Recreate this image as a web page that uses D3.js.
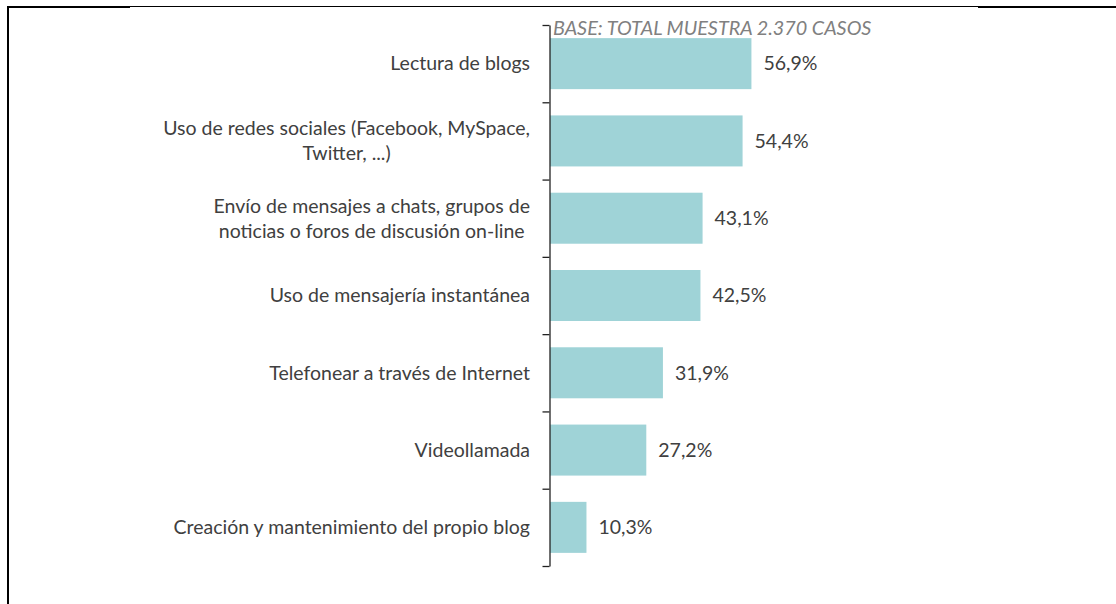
<!DOCTYPE html>
<html>
<head>
<meta charset="utf-8">
<script src="https://cdn.jsdelivr.net/npm/d3@7"></script>
<style>
  html, body { margin: 0; padding: 0; background: #fff; }
  svg { display: block; }
  .lbl { font-family: Lato, "Open Sans", sans-serif; font-size: 19.5px; fill: #404040; }
  .base { font-family: Lato, "Open Sans", sans-serif; font-size: 19.8px; font-style: italic; fill: #808080; }
</style>
</head>
<body>
<div id="chart"></div>
<script>
// categories (each entry = lines of the wrapped label)
var categories = [
  ["Lectura de blogs"],
  ["Uso de redes sociales (Facebook, MySpace,", "Twitter, ...)"],
  ["Envío de mensajes a chats, grupos de", "noticias o foros de discusión on-line"],
  ["Uso de mensajería instantánea"],
  ["Telefonear a través de Internet"],
  ["Videollamada"],
  ["Creación y mantenimiento del propio blog"]
];
var values = [56.9, 54.4, 43.1, 42.5, 31.9, 27.2, 10.3];
var valueLabels = ["56,9%", "54,4%", "43,1%", "42,5%", "31,9%", "27,2%", "10,3%"];
var baseNote = "BASE: TOTAL MUESTRA 2.370 CASOS";

var W = 1116, H = 604;
var axisX = 550, plotTop = 25, plotBottom = 566;

var svg = d3.select("#chart").append("svg")
            .attr("width", W)
            .attr("height", H);

// frame lines of the original image
svg.append("line").attr("x1", 8).attr("x2", W).attr("y1", 6.5).attr("y2", 6.5)
   .attr("stroke", "#000").attr("stroke-width", 1);
svg.append("line").attr("x1", 7).attr("x2", 130).attr("y1", 7).attr("y2", 7)
   .attr("stroke", "#000").attr("stroke-width", 2);
svg.append("line").attr("x1", 978).attr("x2", W).attr("y1", 7).attr("y2", 7)
   .attr("stroke", "#000").attr("stroke-width", 2);
svg.append("line").attr("x1", 8).attr("x2", 8).attr("y1", 6).attr("y2", H)
   .attr("stroke", "#000").attr("stroke-width", 2);

var idx = d3.range(categories.length);

var x = d3.scaleLinear().domain([0, 100]).range([axisX, axisX + 354]);
var y = d3.scaleBand().domain(idx).range([plotTop, plotBottom])
          .paddingInner(0.34).paddingOuter(0.17);
// boundaries between categories, for the axis ticks
var yb = d3.scaleLinear().domain([0, categories.length]).range([plotTop, plotBottom]);

// bars
svg.selectAll(".bar")
   .data(idx)
   .enter().append("rect")
   .attr("class", "bar")
   .attr("x", x(0))
   .attr("y", function(i){ return y(i); })
   .attr("width", function(i){ return x(values[i]) - x(0); })
   .attr("height", y.bandwidth())
   .attr("fill", "#9fd3d7");

// axis
var ax = svg.append("g")
            .attr("transform", "translate(" + (axisX - 0.5) + ",0)")
            .call(d3.axisLeft(yb).tickValues(d3.range(categories.length + 1))
                  .tickFormat("").tickSizeInner(7).tickSizeOuter(0));
ax.select(".domain").attr("stroke", "#222").attr("stroke-width", 1.3);
ax.selectAll(".tick line").attr("stroke", "#222").attr("stroke-width", 1.3);

// value labels
svg.selectAll(".val")
   .data(idx)
   .enter().append("text")
   .attr("class", "lbl val")
   .attr("x", function(i){ return x(values[i]) + 12; })
   .attr("y", function(i){ return y(i) + y.bandwidth() / 2; })
   .attr("dy", "0.35em")
   .text(function(i){ return valueLabels[i]; });

// category labels: block right aligned, lines centred inside the block
var lineH = 25, labelRight = axisX - 20;
idx.forEach(function(i){
  var lines = categories[i];
  var g = svg.append("g");
  var cy = y(i) + y.bandwidth() / 2;
  var texts = g.selectAll("text").data(lines).enter().append("text")
     .attr("class", "lbl")
     .attr("text-anchor", "middle")
     .attr("y", function(d, k){ return cy + (k - (lines.length - 1) / 2) * lineH; })
     .attr("dy", "0.35em")
     .text(function(d){ return d; });
  var maxW = 0;
  texts.each(function(){ maxW = Math.max(maxW, this.getComputedTextLength()); });
  texts.attr("x", labelRight - maxW / 2);
});

// base note
svg.append("text")
   .attr("class", "base")
   .attr("x", axisX + 3)
   .attr("y", 35)
   .text(baseNote);
</script>
</body>
</html>
